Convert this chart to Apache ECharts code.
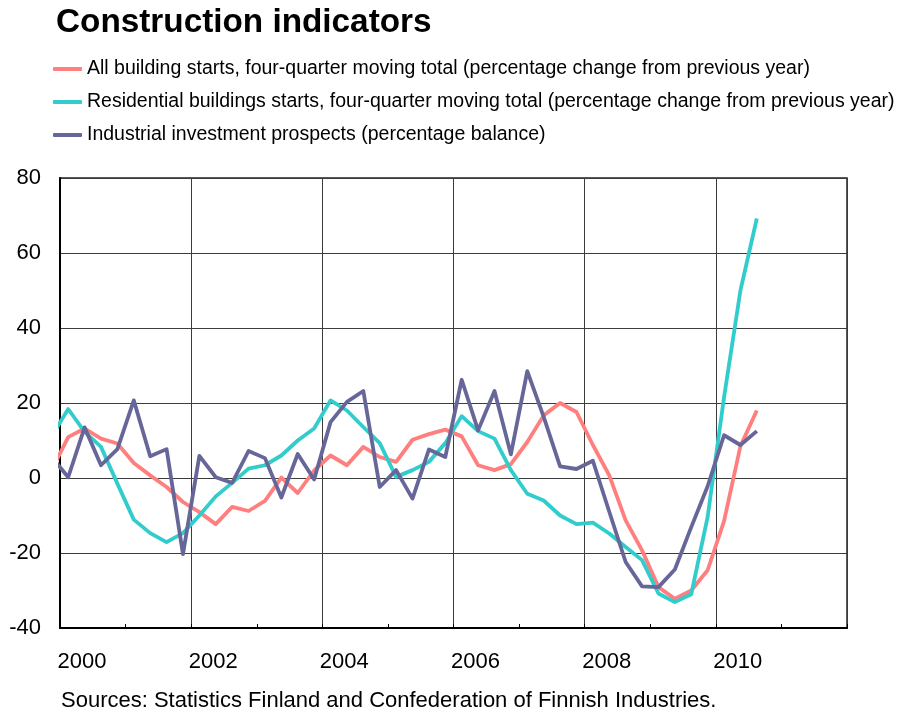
<!DOCTYPE html>
<html>
<head>
<meta charset="utf-8">
<script src="https://cdn.jsdelivr.net/npm/echarts@6/dist/echarts.min.js"></script>
<style>
  html, body { margin: 0; padding: 0; background: #fff; }
  #chart { width: 901px; height: 712px; }
</style>
</head>
<body>
<div id="chart"></div>
<script>
// Quarterly observations, first one is 1999 Q4
const firstYear = 1999;
const firstQuarter = 4;

const seriesNames = [
  'All building starts, four-quarter moving total (percentage change from previous year)',
  'Residential buildings starts, four-quarter moving total (percentage change from previous year)',
  'Industrial investment prospects (percentage balance)'
];

const allStarts = [
  2.2, 10.9, 13.2, 10.5, 9.2, 4.0, 0.7, -2.4, -6.4, -9.1, -12.3, -7.7, -8.8,
  -6.1, 0.1, -4.0, 2.0, 6.0, 3.4, 8.3, 5.6, 4.3, 10.2, 11.7, 12.9, 11.1, 3.4,
  2.1, 3.7, 9.6, 16.7, 20.0, 17.6, 8.8, 0.7, -11.3, -19.3, -29.1, -32.2, -30.0,
  -24.6, -11.5, 8.5, 18.0
];

const residentialStarts = [
  11.2, 18.4, 12.3, 8.3, -1.5, -11.1, -14.7, -17.1, -14.7, -10.0, -4.9, -1.3, 2.5,
  3.4, 6.0, 10.0, 13.2, 20.7, 18.0, 13.6, 9.3, 0.3, 2.1, 4.3, 9.3, 16.5, 12.5,
  10.5, 2.1, -4.2, -6.0, -10.0, -12.3, -11.9, -14.8, -18.4, -21.9, -30.8, -33.1, -31.0,
  -10.4, 21.5, 50.0, 69.2
];

const industrialProspects = [
  5.6, 0.2, 13.5, 3.4, 7.7, 20.7, 5.8, 7.7, -20.3, 5.9, 0.2, -1.3, 7.2,
  5.3, -5.2, 6.4, -0.4, 14.9, 20.3, 23.2, -2.4, 2.1, -5.5, 7.6, 5.6, 26.2, 12.7,
  23.2, 6.3, 28.5, 16.3, 3.1, 2.4, 4.6, -9.0, -22.4, -28.9, -29.1, -24.4, -13.1,
  -2.2, 11.4, 8.8, 12.5
];

const yearLabels = [2000, 2002, 2004, 2006, 2008, 2010];
const seriesColors = ['#FF7F7F', '#33CCCC', '#666699'];
const FONT = "'Liberation Sans', Arial, Helvetica, sans-serif";

// Middle of the k-th quarter, expressed in decimal years
function quarterMid(k) {
  const q = firstQuarter - 1 + k;
  return firstYear + Math.floor(q / 4) + ((q % 4) + 0.5) / 4;
}

function toPoints(values) {
  return values.map((v, k) => [quarterMid(k), v]);
}

const chart = echarts.init(document.getElementById('chart'), null, { renderer: 'canvas' });

const lineSeries = [allStarts, residentialStarts, industrialProspects].map((vals, i) => ({
  name: seriesNames[i],
  type: 'line',
  data: toPoints(vals),
  symbol: 'none',
  clip: true,
  animation: false,
  lineStyle: { color: seriesColors[i], width: 3.8, join: 'round' },
  itemStyle: { color: seriesColors[i] },
  z: 3 + i
}));

chart.setOption({
  backgroundColor: '#fff',
  animation: false,
  title: {
    text: 'Construction indicators',
    left: 56,
    top: 6,
    padding: 0,
    textStyle: { fontFamily: FONT, fontSize: 33.3, fontWeight: 'bold', color: '#000' }
  },
  legend: {
    orient: 'vertical',
    left: 53,
    top: 59,
    padding: 0,
    itemWidth: 29,
    itemHeight: 4,
    itemGap: 13,
    icon: 'roundRect',
    data: seriesNames,
    textStyle: { fontFamily: FONT, fontSize: 19.5, color: '#000', lineHeight: 19 }
  },
  grid: {
    left: 60,
    right: 54,
    top: 178,
    bottom: 84,
    show: true,
    borderColor: '#222',
    borderWidth: 1.5,
    containLabel: false
  },
  xAxis: {
    type: 'value',
    min: 2000,
    max: 2012,
    interval: 2,
    axisLine: { show: true, onZero: false, lineStyle: { color: '#000', width: 2 } },
    axisTick: { show: true, inside: true, length: 4, lineStyle: { color: '#000' } },
    minorTick: { show: true, splitNumber: 2, length: 4, lineStyle: { color: '#000', width: 1 } },
    splitLine: { show: true, lineStyle: { color: '#3c3c3c', width: 1 } },
    axisLabel: {
      formatter: v => (yearLabels.indexOf(v) >= 0 ? String(v) : ''),
      fontFamily: FONT,
      fontSize: 22,
      color: '#000',
      margin: 23,
      align: 'center',
      padding: [0, 0, 0, 44],
      showMaxLabel: false
    }
  },
  yAxis: {
    type: 'value',
    min: -40,
    max: 80,
    interval: 20,
    axisLine: { show: true, onZero: false, lineStyle: { color: '#000', width: 2 } },
    axisTick: { show: false },
    splitLine: { show: true, lineStyle: { color: '#3c3c3c', width: 1 } },
    axisLabel: { fontFamily: FONT, fontSize: 22, color: '#000', margin: 19 }
  },
  graphic: [{
    type: 'text',
    left: 61,
    top: 690,
    style: {
      text: 'Sources: Statistics Finland and Confederation of Finnish Industries.',
      fontFamily: FONT,
      fontSize: 22,
      fill: '#000'
    }
  }],
  series: lineSeries
});
</script>
</body>
</html>
